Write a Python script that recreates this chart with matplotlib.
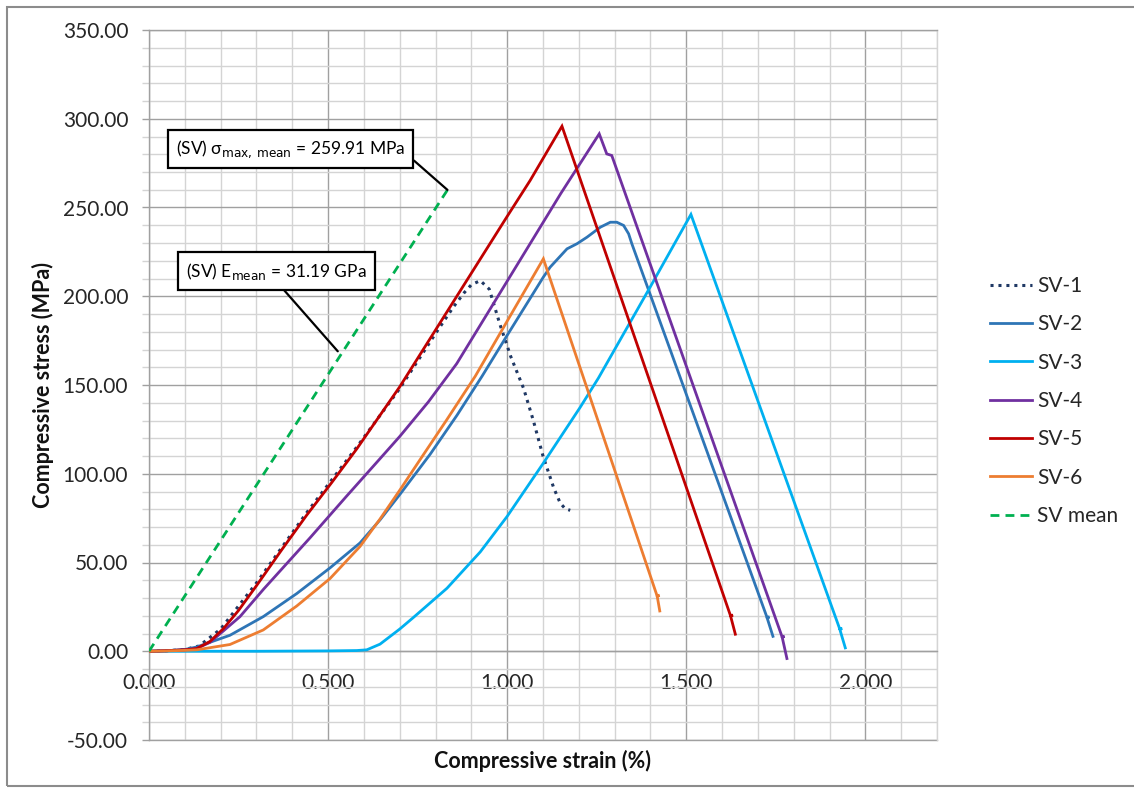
import matplotlib
matplotlib.use("Agg")
import matplotlib.pyplot as plt
from matplotlib.ticker import MultipleLocator, FormatStrFormatter
from matplotlib.patches import Rectangle

plt.rcParams["font.family"] = ["Lato", "DejaVu Sans"]
plt.rcParams["mathtext.fontset"] = "dejavusans"

# ---- stress-strain data: compressive strain (%) / compressive stress (MPa) ----
sv1_strain = [0.0, 0.05, 0.10, 0.14, 0.20, 0.30, 0.44, 0.58, 0.70, 0.80, 0.85, 0.88,
              0.90, 0.925, 0.95, 0.98, 1.01, 1.046, 1.073, 1.10, 1.13, 1.148, 1.162, 1.176]
sv1_stress = [0.0, 0.3, 1.0, 3.0, 12.5, 38.5, 78.0, 115.0, 148.0, 179.0, 194.0, 202.0,
              206.5, 208.8, 204.0, 184.0, 166.0, 148.0, 130.0, 110.0, 92.0, 83.5, 80.3, 79.4]

sv2_strain = [0.0, 0.05, 0.10, 0.133, 0.226, 0.319, 0.4125, 0.5056, 0.589, 0.645, 0.701,
              0.785, 0.86, 0.93, 1.0, 1.101, 1.12, 1.167, 1.195, 1.223, 1.26, 1.288, 1.306,
              1.325, 1.339, 1.348, 1.725, 1.732, 1.726, 1.742]
sv2_stress = [0.0, 0.3, 1.0, 2.4, 9.0, 19.5, 32.5, 47.0, 61.0, 74.0, 88.5,
              111.0, 133.0, 155.0, 178.0, 210.8, 216.4, 226.7, 229.6, 233.3, 238.9, 241.7, 241.7,
              239.9, 235.2, 229.6, 19.3, 19.3, 18.6, 8.4]

sv3_strain = [0.0, 0.10, 0.30, 0.50, 0.58, 0.608, 0.645, 0.70, 0.738, 0.832, 0.925, 1.0,
              1.101, 1.204, 1.255, 1.399, 1.513, 1.928, 1.935, 1.929, 1.944]
sv3_stress = [0.0, 0.0, 0.0, 0.2, 0.4, 0.8, 4.0, 12.5, 19.0, 35.5, 56.0, 76.0,
              106.0, 137.5, 154.0, 205.1, 246.1, 12.8, 12.8, 12.1, 1.9]

sv4_strain = [0.0, 0.05, 0.10, 0.133, 0.17, 0.208, 0.254, 0.32, 0.45, 0.55, 0.645, 0.70,
              0.78, 0.859, 0.95, 1.05, 1.15, 1.257, 1.278, 1.292, 1.767, 1.774, 1.768, 1.781]
sv4_stress = [0.0, 0.3, 0.8, 1.5, 5.0, 11.5, 19.5, 35.0, 64.0, 87.0, 108.5, 121.0,
              140.5, 162.0, 192.0, 225.0, 258.0, 291.5, 280.2, 279.3, 8.4, 8.4, 7.7, -4.1]

sv5_strain = [0.0, 0.05, 0.10, 0.133, 0.17, 0.208, 0.25, 0.301, 0.37, 0.44, 0.51, 0.58,
              0.70, 0.80, 0.90, 1.00, 1.064, 1.153, 1.623, 1.630, 1.624, 1.637]
sv5_stress = [0.0, 0.3, 0.8, 1.5, 5.5, 12.8, 23.0, 37.2, 57.0, 76.6, 95.0, 114.0,
              149.0, 181.0, 213.0, 245.0, 265.2, 295.8, 20.3, 20.3, 19.6, 9.6]

sv6_strain = [0.0, 0.05, 0.10, 0.133, 0.226, 0.319, 0.4125, 0.5056, 0.589, 0.645, 0.701,
              0.757, 0.83, 0.911, 1.0, 1.101, 1.418, 1.425, 1.419, 1.426]
sv6_stress = [0.0, 0.2, 0.5, 0.8, 3.8, 12.0, 25.5, 41.0, 59.0, 74.5, 91.0,
              108.0, 130.0, 155.0, 186.0, 221.1, 31.5, 31.5, 30.8, 22.7]

mean_strain = [0.0, 0.8333]
mean_stress = [0.0, 259.91]

labels = ["SV-1", "SV-2", "SV-3", "SV-4", "SV-5", "SV-6", "SV mean"]
colors = ["#1F3864", "#2E75B6", "#00B0F0", "#7030A0", "#C00000", "#ED7D31", "#00B050"]
styles = [(0, (1, 1.6)), "-", "-", "-", "-", "-", (0, (3.2, 2.2))]
series = [(sv1_strain, sv1_stress), (sv2_strain, sv2_stress), (sv3_strain, sv3_stress),
          (sv4_strain, sv4_stress), (sv5_strain, sv5_stress), (sv6_strain, sv6_stress),
          (mean_strain, mean_stress)]

x_ticks = [0.0, 0.5, 1.0, 1.5, 2.0]

W, H = 1134, 790
fig = plt.figure(figsize=(W / 100, H / 100), dpi=100)
fig.patch.set_facecolor("white")
ax = fig.add_axes([149 / W, 1 - 740 / H, 788 / W, 710 / H])

major_c = "#a0a0a0"
minor_c = "#d4d4d4"

ax.set_xlim(0, 2.2)
ax.set_ylim(-50, 350)
ax.xaxis.set_major_locator(MultipleLocator(0.5))
ax.xaxis.set_minor_locator(MultipleLocator(0.1))
ax.yaxis.set_major_locator(MultipleLocator(50))
ax.yaxis.set_minor_locator(MultipleLocator(10))
ax.set_xticks(x_ticks)
ax.xaxis.set_major_formatter(FormatStrFormatter("%.3f"))
ax.yaxis.set_major_formatter(FormatStrFormatter("%.2f"))

ax.grid(which="minor", color=minor_c, lw=1.0, zorder=0)
ax.grid(which="major", color=major_c, lw=1.0, zorder=0)
ax.set_axisbelow(True)

ax.spines["bottom"].set_position(("data", 0))
for s in ["bottom", "left", "top"]:
    ax.spines[s].set_color(major_c)
    ax.spines[s].set_linewidth(1.0)
ax.spines["right"].set_color(minor_c)
ax.spines["right"].set_linewidth(1.0)
ax.axhline(-50, color=major_c, lw=1.0, clip_on=False, zorder=0)

ax.tick_params(axis="x", which="both", length=0, labelsize=15, pad=16, colors="#262626")
ax.tick_params(axis="y", which="both", length=5, width=1.0, color=major_c,
               labelsize=15, pad=10, labelcolor="#262626")
ax.tick_params(axis="y", which="minor", color=minor_c)

for (xs, ys), lab, col, ls in zip(series, labels, colors, styles):
    ax.plot(xs, ys, color=col, lw=2.0 if lab != "SV-1" else 2.2, ls=ls, label=lab,
            solid_joinstyle="miter", zorder=3)

ax.set_xlabel("Compressive strain (%)", fontsize=15.5, fontweight="bold", color="#111111")
ax.xaxis.set_label_coords(0.5, -0.014)
ax.set_ylabel("Compressive stress (MPa)", fontsize=15.5, fontweight="bold", color="#111111")
ax.yaxis.set_label_coords(-0.12, 0.5)

box = dict(boxstyle="square,pad=0.47", fc="white", ec="black", lw=1.6)
ax.annotate("(SV) σ$_{\\mathrm{max,\\,mean}}$ = 259.91 MPa",
            xy=(mean_strain[-1], mean_stress[-1]), xytext=(0.395, 282.9),
            ha="center", va="center", fontsize=12.5, bbox=box, zorder=5,
            arrowprops=dict(arrowstyle="-", color="black", lw=1.6, shrinkA=0, shrinkB=0,
                            relpos=(1.0, 0.33)))
ax.annotate("(SV) E$_{\\mathrm{mean}}$ = 31.19 GPa",
            xy=(0.527, 169.0), xytext=(0.356, 214.2),
            ha="center", va="center", fontsize=12.5, bbox=box, zorder=5,
            arrowprops=dict(arrowstyle="-", color="black", lw=1.6, shrinkA=0, shrinkB=0,
                            relpos=(0.5, 0.0)))

leg = ax.legend(loc="upper left", bbox_to_anchor=(990 / W, 1 - 276 / H),
                bbox_transform=fig.transFigure, frameon=False, fontsize=15,
                handlelength=2.0, handletextpad=0.25, labelspacing=0.88,
                borderpad=0, borderaxespad=0)
for t in leg.get_texts():
    t.set_color("#262626")

fig.add_artist(Rectangle((7 / W, 1 - 786 / H), 1.2, (786 - 7) / H,
                         transform=fig.transFigure, fill=False, ec="#8c8c8c", lw=1.5))

fig.savefig("out.png", dpi=100, facecolor="white")
